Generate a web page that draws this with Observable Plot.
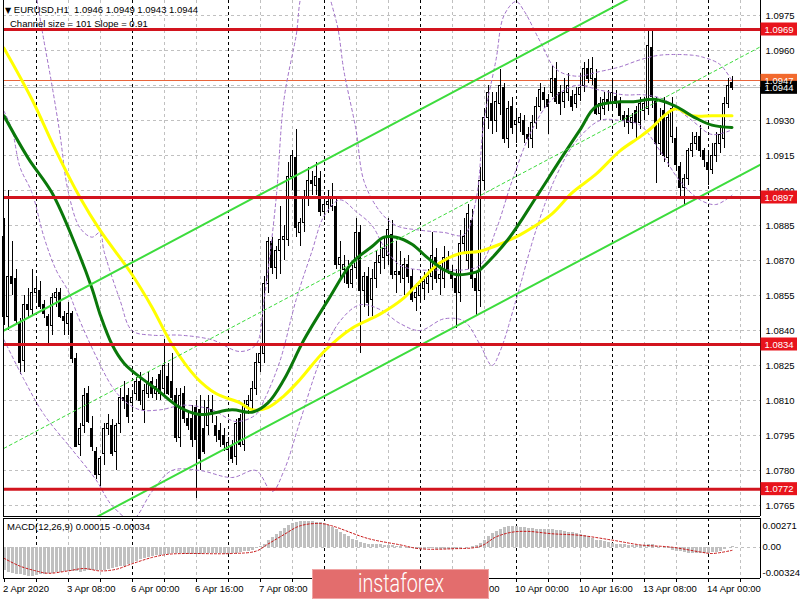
<!DOCTYPE html>
<html><head><meta charset="utf-8">
<script src="https://cdn.jsdelivr.net/npm/d3@7"></script>
<script src="https://cdn.jsdelivr.net/npm/@observablehq/plot@0.6"></script>
<style>
body{margin:0;background:#fff;}
#wrap{position:relative;width:800px;height:600px;overflow:hidden;background:#fff;font-family:'Liberation Sans',Arial,sans-serif;}
#main,#macd{position:absolute;left:0;}
#main{top:0;} #macd{top:517px;}
.hdr{position:absolute;font-size:9.5px;line-height:12px;color:#000;white-space:pre;}
#logo{position:absolute;left:312px;top:569px;width:177px;height:30px;background:#e36d6d;border:1px solid #f0a4a4;box-sizing:border-box;overflow:hidden;}
#logo span{position:absolute;left:50%;top:-1px;white-space:nowrap;color:#fff;font-family:Roboto,'Open Sans',sans-serif;font-size:25px;line-height:29px;font-weight:300;}
</style></head><body>
<div id="wrap">
<div id="main"></div>
<div id="macd"></div>
<div class="hdr" style="left:5px;top:4px"><span style="font-family:'DejaVu Sans';font-size:8px">▼</span> EURUSD,H1  1.0946 1.0949 1.0943 1.0944</div>
<div class="hdr" style="left:10px;top:18px">Channel size = 101 Slope = 0.91</div>
<div class="hdr" style="left:7px;top:521px">MACD(12,26,9) 0.00015 -0.00034</div>
<div id="logo"><span>instaforex</span></div>
</div>
<script>
// ---------- data ----------
const opens = [1.0880,1.0846,1.0863,1.0862,1.0843,1.0827,1.0851,1.0849,1.0856,1.0857,
1.0851,1.0846,1.0842,1.0854,1.0856,1.0846,1.0843,1.0847,1.0828,1.0791,
1.0799,1.0813,1.0798,1.0788,1.0778,1.0787,1.0798,1.0799,1.0788,1.0800,
1.0811,1.0812,1.0809,1.0813,1.0818,1.0806,1.0813,1.0818,1.0813,1.0821,
1.0815,1.0820,1.0818,1.0812,1.0794,1.0813,1.0802,1.0802,1.0807,1.0806,
1.0798,1.0799,1.0806,1.0799,1.0797,1.0795,1.0789,1.0790,1.0786,1.0802,
1.0791,1.0808,1.0810,1.0815,1.0826,1.0830,1.0860,1.0878,1.0867,1.0874,
1.0879,1.0879,1.0906,1.0914,1.0882,1.0886,1.0897,1.0904,1.0902,1.0905,
1.0891,1.0894,1.0893,1.0893,1.0868,1.0866,1.0866,1.0860,1.0867,1.0882,
1.0857,1.0863,1.0853,1.0862,1.0869,1.0871,1.0872,1.0881,1.0864,1.0865,
1.0862,1.0868,1.0863,1.0854,1.0855,1.0858,1.0860,1.0863,1.0871,1.0862,
1.0862,1.0871,1.0865,1.0862,1.0856,1.0877,1.0870,1.0887,1.0862,1.0857,
1.0904,1.0931,1.0937,1.0930,1.0937,1.0944,1.0922,1.0936,1.0928,1.0929,
1.0930,1.0924,1.0922,1.0929,1.0936,1.0942,1.0939,1.0942,1.0948,1.0942,
1.0938,1.0942,1.0940,1.0937,1.0941,1.0945,1.0952,1.0948,1.0948,1.0933,
1.0935,1.0939,1.0937,1.0940,1.0937,1.0932,1.0932,1.0929,1.0934,1.0929,
1.0934,1.0935,1.0961,1.0938,1.0920,1.0934,1.0914,1.0923,1.0922,1.0910,
1.0901,1.0905,1.0917,1.0920,1.0923,1.0917,1.0912,1.0909,1.0915,1.0920,
1.0922,1.0937,1.0946];
const highs = [1.0888,1.0900,1.0878,1.0866,1.0845,1.0855,1.0858,1.0866,1.0862,1.0861,
1.0853,1.0847,1.0856,1.0858,1.0858,1.0848,1.0852,1.0848,1.0830,1.0800,
1.0815,1.0816,1.0803,1.0790,1.0786,1.0800,1.0804,1.0802,1.0800,1.0815,
1.0818,1.0815,1.0814,1.0820,1.0822,1.0817,1.0822,1.0820,1.0819,1.0823,
1.0836,1.0826,1.0830,1.0815,1.0815,1.0816,1.0805,1.0808,1.0810,1.0812,
1.0810,1.0812,1.0812,1.0803,1.0800,1.0798,1.0794,1.0793,1.0802,1.0804,
1.0810,1.0812,1.0818,1.0830,1.0834,1.0863,1.0880,1.0880,1.0876,1.0893,
1.0885,1.0912,1.0917,1.0926,1.0888,1.0900,1.0910,1.0908,1.0912,1.0908,
1.0896,1.0900,1.0903,1.0897,1.0878,1.0872,1.0870,1.0868,1.0888,1.0885,
1.0865,1.0867,1.0866,1.0874,1.0878,1.0880,1.0888,1.0887,1.0878,1.0874,
1.0871,1.0872,1.0866,1.0860,1.0863,1.0865,1.0866,1.0882,1.0875,1.0868,
1.0876,1.0874,1.0868,1.0866,1.0883,1.0888,1.0894,1.0892,1.0865,1.0910,
1.0935,1.0945,1.0942,1.0942,1.0952,1.0946,1.0938,1.0940,1.0934,1.0933,
1.0932,1.0927,1.0932,1.0940,1.0946,1.0944,1.0941,1.0953,1.0955,1.0945,
1.0948,1.0950,1.0943,1.0944,1.0950,1.0955,1.0956,1.0957,1.0952,1.0940,
1.0942,1.0943,1.0947,1.0943,1.0940,1.0934,1.0935,1.0933,1.0936,1.0940,
1.0940,1.0968,1.0969,1.0940,1.0935,1.0940,1.0933,1.0940,1.0927,1.0912,
1.0907,1.0918,1.0925,1.0925,1.0928,1.0918,1.0916,1.0920,1.0925,1.0928,
1.0940,1.0948,1.0949];
const lows = [1.0842,1.0840,1.0855,1.0842,1.0821,1.0822,1.0845,1.0846,1.0852,1.0849,
1.0845,1.0834,1.0838,1.0850,1.0845,1.0838,1.0838,1.0826,1.0790,1.0786,
1.0796,1.0800,1.0788,1.0776,1.0773,1.0782,1.0795,1.0786,1.0780,1.0796,
1.0806,1.0800,1.0805,1.0810,1.0808,1.0800,1.0811,1.0811,1.0810,1.0810,
1.0812,1.0812,1.0810,1.0792,1.0790,1.0800,1.0797,1.0790,1.0768,1.0780,
1.0787,1.0795,1.0800,1.0792,1.0790,1.0788,1.0784,1.0783,1.0782,1.0790,
1.0788,1.0804,1.0806,1.0812,1.0822,1.0826,1.0856,1.0864,1.0862,1.0864,
1.0870,1.0876,1.0900,1.0880,1.0876,1.0882,1.0893,1.0898,1.0898,1.0889,
1.0887,1.0890,1.0891,1.0866,1.0862,1.0860,1.0858,1.0858,1.0862,1.0830,
1.0850,1.0846,1.0846,1.0858,1.0864,1.0866,1.0868,1.0862,1.0856,1.0860,
1.0855,1.0860,1.0852,1.0848,1.0852,1.0853,1.0856,1.0857,1.0860,1.0855,
1.0858,1.0864,1.0858,1.0841,1.0852,1.0873,1.0866,1.0858,1.0846,1.0850,
1.0900,1.0926,1.0924,1.0925,1.0932,1.0920,1.0918,1.0924,1.0920,1.0925,
1.0920,1.0918,1.0918,1.0926,1.0934,1.0935,1.0924,1.0940,1.0937,1.0932,
1.0935,1.0938,1.0934,1.0935,1.0938,1.0942,1.0946,1.0945,1.0932,1.0930,
1.0932,1.0934,1.0935,1.0935,1.0930,1.0927,1.0924,1.0926,1.0922,1.0926,
1.0930,1.0932,1.0935,1.0903,1.0915,1.0912,1.0910,1.0920,1.0908,1.0897,
1.0894,1.0902,1.0914,1.0917,1.0914,1.0910,1.0902,1.0907,1.0912,1.0916,
1.0918,1.0935,1.0943];
const closes = [1.0846,1.0863,1.0860,1.0844,1.0826,1.0851,1.0849,1.0856,1.0858,1.0850,
1.0847,1.0842,1.0854,1.0856,1.0846,1.0844,1.0847,1.0828,1.0790,1.0798,
1.0812,1.0801,1.0790,1.0778,1.0785,1.0798,1.0800,1.0787,1.0799,1.0811,
1.0810,1.0803,1.0811,1.0818,1.0810,1.0814,1.0818,1.0813,1.0816,1.0813,
1.0825,1.0813,1.0811,1.0794,1.0812,1.0802,1.0799,1.0793,1.0793,1.0785,
1.0788,1.0807,1.0805,1.0795,1.0793,1.0791,1.0792,1.0785,1.0800,1.0791,
1.0808,1.0810,1.0815,1.0826,1.0830,1.0860,1.0878,1.0867,1.0874,1.0879,
1.0880,1.0906,1.0915,1.0884,1.0886,1.0897,1.0904,1.0903,1.0906,1.0891,
1.0894,1.0895,1.0897,1.0868,1.0871,1.0868,1.0860,1.0866,1.0882,1.0857,
1.0863,1.0852,1.0862,1.0869,1.0872,1.0875,1.0883,1.0864,1.0865,1.0864,
1.0868,1.0863,1.0853,1.0856,1.0859,1.0861,1.0863,1.0872,1.0862,1.0864,
1.0871,1.0866,1.0862,1.0856,1.0877,1.0880,1.0890,1.0862,1.0857,1.0904,
1.0931,1.0942,1.0930,1.0938,1.0945,1.0922,1.0935,1.0927,1.0930,1.0931,
1.0924,1.0922,1.0929,1.0936,1.0943,1.0939,1.0936,1.0948,1.0938,1.0937,
1.0942,1.0945,1.0936,1.0941,1.0944,1.0952,1.0948,1.0952,1.0933,1.0937,
1.0939,1.0937,1.0942,1.0937,1.0932,1.0930,1.0929,1.0931,1.0929,1.0937,
1.0937,1.0962,1.0940,1.0920,1.0930,1.0915,1.0931,1.0935,1.0911,1.0901,
1.0905,1.0917,1.0920,1.0923,1.0917,1.0913,1.0909,1.0915,1.0920,1.0924,
1.0937,1.0945,1.0944];

// moving averages [bar, price]
const maYellow = [[0,1.0961],[7,1.0939],[13,1.0917],[19,1.0897],[24,1.0883],[32,1.0864],[37,1.0850],[42,1.0834],[48,1.0820],[53,1.0813],[59,1.0809],[62,1.0806],[66,1.0807],[70,1.0812],[74,1.0819],[80,1.0831],[87,1.0841],[94,1.0847],[100,1.0854],[104,1.0861],[109,1.0869],[114,1.0873],[119,1.0874],[124,1.0877],[129,1.0881],[132,1.0884],[137,1.0890],[142,1.0899],[148,1.0907],[154,1.0917],[159,1.0923],[162,1.0927],[165,1.0932],[168,1.0935],[172,1.0932],[177,1.0932],[182,1.0932]];
const maGreen = [[0,1.0932],[6,1.0914],[12,1.0899],[18,1.0876],[22,1.0858],[24,1.0847],[27,1.0834],[30,1.0826],[34,1.0820],[38,1.0815],[44,1.0807],[49,1.0804],[57,1.0806],[62,1.0805],[66,1.0809],[70,1.0819],[75,1.0836],[81,1.0853],[87,1.0869],[92,1.0876],[95,1.0880],[98,1.0880],[102,1.0877],[106,1.0871],[110,1.0866],[113,1.0864],[118,1.0865],[119,1.0866],[126,1.0879],[133,1.0897],[139,1.0913],[144,1.0926],[148,1.0936],[154,1.0938],[157,1.0938],[163,1.0939],[168,1.0936],[173,1.0931],[177,1.0928],[182,1.0927]];
// Bollinger bands [bar, price]
const bandUpper = [[8,1.0984],[10,1.0964],[12,1.0945],[14,1.0924],[16,1.0900],[19,1.0884],[22,1.0880],[24,1.0882],[25,1.0874],[29,1.0853],[32,1.0840],[37,1.0838],[44,1.0838],[52,1.0836],[59,1.0831],[63,1.0834],[65,1.0853],[68,1.0896],[70,1.0939],[73,1.0966],[75,1.0986],[79,1.0990],[83,1.0973],[85,1.0951],[88,1.0926],[90,1.0904],[94,1.0891],[98,1.0885],[104,1.0883],[110,1.0882],[115,1.0881],[118,1.0896],[120,1.0930],[123,1.0956],[125,1.0975],[128,1.0981],[130,1.0977],[134,1.0964],[138,1.0952],[143,1.0949],[149,1.0951],[154,1.0953],[159,1.0956],[164,1.0958],[172,1.0958],[175,1.0957],[179,1.0954],[182,1.0947]];
const bandMiddle = [[0,1.0934],[2,1.0926],[4,1.0910],[7,1.0899],[10,1.0880],[13,1.0866],[16,1.0857],[19,1.0844],[23,1.0829],[27,1.0816],[30,1.0810],[34,1.0806],[39,1.0806],[45,1.0808],[52,1.0806],[58,1.0801],[63,1.0804],[65,1.0810],[69,1.0827],[73,1.0853],[77,1.0874],[80,1.0889],[84,1.0896],[88,1.0891],[92,1.0885],[95,1.0876],[99,1.0868],[104,1.0866],[110,1.0866],[115,1.0866],[119,1.0868],[123,1.0883],[127,1.0904],[132,1.0926],[137,1.0939],[143,1.0945],[149,1.0943],[155,1.0941],[160,1.0941],[165,1.0939],[172,1.0930],[177,1.0924],[182,1.0926]];
const bandLower = [[0,1.0836],[5,1.0819],[10,1.0804],[17,1.0789],[23,1.0776],[27,1.0765],[32,1.0759],[37,1.0771],[42,1.0780],[49,1.0780],[57,1.0777],[63,1.0780],[67,1.0771],[70,1.0780],[74,1.0801],[79,1.0827],[84,1.0844],[89,1.0851],[94,1.0849],[99,1.0843],[104,1.0840],[110,1.0845],[115,1.0844],[119,1.0834],[122,1.0825],[124,1.0831],[128,1.0853],[133,1.0883],[138,1.0906],[143,1.0921],[149,1.0930],[154,1.0930],[159,1.0928],[164,1.0917],[169,1.0904],[174,1.0896],[178,1.0894],[182,1.0898]];
// regression channel: [bar, price] at both ends
const chanUpper = [[0,1.0840],[189,1.1012]];
const chanMiddle = [[0,1.07895],[189,1.09615]];
const chanLower = [[0,1.0739],[189,1.0911]];
// horizontal levels
const levels = [1.0969, 1.0897, 1.0834, 1.0772];
const askPrice = 1.0947, bidPrice = 1.0944;
const priceTicks = [1.0765,1.0780,1.0795,1.0810,1.0825,1.0840,1.0855,1.0870,1.0885,1.0900,1.0915,1.0930,1.0945,1.0960,1.0975];
// time axis
const timeLabels = ["2 Apr 2020","3 Apr 08:00","6 Apr 00:00","6 Apr 16:00","7 Apr 08:00","8 Apr 00:00","8 Apr 16:00","9 Apr 08:00","10 Apr 00:00","10 Apr 16:00","13 Apr 08:00","14 Apr 00:00"];
const timeLabelBars = [0,16,32,48,64,80,96,112,128,144,160,176];
const daySepBars = [8,32,56,80,104,128,152,176];
const gridBars = [0,8,16,24,32,40,48,56,64,72,80,88,96,104,112,120,128,136,144,152,160,168,176,184];
// MACD
const macdHist = [-0.0030,-0.0032,-0.0033,-0.0034,
-0.0035,-0.0036,-0.0037,-0.0037,-0.0036,
-0.0035,-0.0034,-0.0033,-0.0033,-0.0032,-0.0032,-0.0031,-0.0031,
-0.0031,-0.0031,-0.0032,-0.0031,-0.0030,-0.0030,-0.0030,-0.0030,
-0.0029,-0.0028,-0.0027,-0.0026,-0.0025,-0.0024,-0.0022,-0.0020,
-0.0018,-0.0016,-0.0014,-0.0013,-0.0012,-0.0011,-0.0010,-0.0009,-0.0009,
-0.0008,-0.0008,-0.0008,-0.0009,-0.0009,-0.0009,-0.0009,-0.0009,-0.0008,-0.0008,-0.0008,-0.0008,-0.0008,-0.0009,-0.0009,-0.0008,-0.0008,-0.0007,-0.0006,-0.0005,-0.0004,-0.0002,
0.0001,0.0004,0.0008,0.0012,0.0016,0.0020,0.0024,0.0027,0.0030,
0.0031,0.0032,0.0032,0.0032,0.0032,0.0031,0.0031,0.0030,
0.0028,0.0025,0.0022,0.0019,0.0016,0.0013,0.0010,0.0008,0.0006,0.0005,
0.0004,0.0003,0.0003,0.0003,0.0002,0.0002,0.0002,0.0001,0.0001,
-0.0001,-0.0002,-0.0002,-0.0003,-0.0003,-0.0003,-0.0002,-0.0002,-0.0003,-0.0003,-0.0003,-0.0003,-0.0003,-0.0003,-0.0002,-0.0001,0.0000,0.0001,0.0002,
0.0005,0.0009,0.0013,0.0017,0.0020,0.0023,0.0025,0.0026,
0.0026,0.0026,0.0025,0.0025,0.0024,0.0024,0.0023,0.0023,0.0022,
0.0022,0.0022,0.0021,0.0021,0.0020,0.0019,0.0018,0.0017,0.0016,0.0015,
0.0013,0.0011,0.0009,0.0008,0.0007,0.0006,0.0005,
0.0004,0.0003,0.0003,0.0002,0.0002,0.0002,0.0002,0.0002,0.0003,0.0003,
0.0001,0.0000,-0.0001,-0.0002,-0.0004,-0.0005,-0.0006,-0.0007,
-0.0008,-0.0008,-0.0008,-0.0008,-0.0008,-0.0008,-0.0007,-0.0007,
-0.0005,-0.0003,-0.0001,0.00015];
const macdSignal = [[0,-0.0014],[4,-0.0024],[8,-0.0030],[11,-0.0033],[16,-0.0030],[20,-0.0027],[24,-0.0030],[28,-0.0028],[32,-0.0021],[37,-0.0013],[41,-0.0009],[45,-0.0008],[57,-0.0008],[63,-0.0005],[66,0.0004],[70,0.0016],[74,0.0027],[79,0.0030],[82,0.0027],[91,0.0011],[99,0.0003],[104,-0.0002],[112,-0.0002],[119,0.0001],[123,0.0013],[127,0.0019],[131,0.0020],[137,0.0017],[144,0.0015],[152,0.0009],[159,0.0003],[167,0.0000],[174,-0.0006],[177,-0.0008],[182,-0.0004]];
const macdTicks = [0.00271, 0, -0.00324];
const macdTickText = ["0.00271", "0.00", "-0.00324"];

// ---------- layout ----------
const FONT = "'Liberation Sans', Arial, sans-serif";
const FS = 9.5;
const PX = 35 / 0.0015;                       // pixels per price unit
const xDom = [-0.125, 189.125];               // plot area 3px..760px, 4px per bar
const barAt = px => (px - 3.5) / 4;          // pixel -> bar units (for margin boxes)
const yDom = [1.0975 - (516 - 15) / PX, 1.0975 + 15 / PX];
const GRID = "#c0c0c0";
const crisp = {shapeRendering: "crispEdges"};

const bars = closes.map((c, i) => ({i, o: opens[i], h: highs[i], l: lows[i], c}));
const pts = a => a.map(([i, p]) => ({i, p}));
const fmt4 = d3.format(".4f");
const boxH = 6.5 / PX;
const boxes = [
  ...levels.map(v => ({v, fill: "#e8141c"})),
  {v: askPrice, fill: "#f26a2e"},
  {v: bidPrice, fill: "#000000"}
];
const bandStyle = {x: "i", y: "p", stroke: "#a070c8", strokeWidth: 1, strokeDasharray: "3,3", curve: "catmull-rom", clip: true};

const main = Plot.plot({
  width: 800, height: 517,
  marginLeft: 3, marginRight: 40, marginTop: 0, marginBottom: 1,
  x: {domain: xDom, axis: null},
  y: {domain: yDom, axis: null},
  color: {type: "identity"},
  style: {fontFamily: FONT, fontSize: FS + "px", background: "#fff", overflow: "visible"},
  marks: [
    Plot.ruleY(priceTicks, {stroke: GRID, strokeDasharray: "3,3", ...crisp}),
    Plot.ruleX(gridBars.filter(b => b > 0 && !daySepBars.includes(b)), {stroke: GRID, strokeDasharray: "3,3", ...crisp}),
    Plot.ruleX(daySepBars, {stroke: "#000", strokeDasharray: "3,3", ...crisp}),
    Plot.ruleY([bidPrice], {stroke: "#c0c0c0", ...crisp}),
    Plot.ruleY([askPrice], {stroke: "#e8643a", ...crisp}),
    Plot.ruleX(bars, {x: "i", y1: "l", y2: "h", stroke: "#000", ...crisp}),
    Plot.rect(bars, {x1: d => d.i - 0.25, x2: d => d.i + 0.25, y1: d => Math.min(d.o, d.c), y2: d => Math.max(d.o, d.c),
      fill: d => d.c >= d.o ? "#ffffff" : "#000000", stroke: "#000", ...crisp}),
    Plot.line(pts(bandUpper), bandStyle),
    Plot.line(pts(bandMiddle), bandStyle),
    Plot.line(pts(bandLower), bandStyle),
    Plot.line(pts(maYellow), {x: "i", y: "p", stroke: "#ffff00", strokeWidth: 3, curve: "catmull-rom", clip: true}),
    Plot.line(pts(maGreen), {x: "i", y: "p", stroke: "#0a780a", strokeWidth: 3, curve: "catmull-rom", clip: true}),
    Plot.line(pts(chanUpper), {x: "i", y: "p", stroke: "#3ddc3d", strokeWidth: 2, clip: true}),
    Plot.line(pts(chanLower), {x: "i", y: "p", stroke: "#3ddc3d", strokeWidth: 2, clip: true}),
    Plot.line(pts(chanMiddle), {x: "i", y: "p", stroke: "#3ddc3d", strokeWidth: 1, strokeDasharray: "3,3", clip: true}),
    Plot.ruleY(levels, {stroke: "#d2141e", strokeWidth: 3}),
    Plot.ruleX([xDom[0], xDom[1]], {stroke: "#000", ...crisp}),
    Plot.ruleY([yDom[0]], {stroke: "#000", ...crisp}),
    Plot.axisY(priceTicks, {anchor: "right", tickSize: 0, tickPadding: 5, tickFormat: fmt4, fontSize: FS, fill: "#000"}),
    Plot.rect(boxes, {x1: barAt(760.5), x2: barAt(797), y1: d => d.v - boxH, y2: d => d.v + boxH, fill: "fill"}),
    Plot.text(boxes, {x: barAt(764), y: "v", text: d => fmt4(d.v), fill: "#fff", textAnchor: "start", fontSize: FS})
  ]
});
document.getElementById("main").append(main);

// MACD panel: frame from local y=1 to y=61, zero at 29.7
const MPX = 7900;
const mDom = [-(61 - 29.7) / MPX, (29.7 - 1) / MPX];
const hist = macdHist.map((v, i) => ({i, v}));
const macd = Plot.plot({
  width: 800, height: 83,
  marginLeft: 3, marginRight: 40, marginTop: 1, marginBottom: 22,
  x: {domain: xDom, axis: null},
  y: {domain: mDom, axis: null},
  color: {type: "identity"},
  style: {fontFamily: FONT, fontSize: FS + "px", background: "transparent", overflow: "visible"},
  marks: [
    Plot.ruleX(gridBars.filter(b => b > 0 && !daySepBars.includes(b)), {stroke: GRID, strokeDasharray: "3,3", ...crisp}),
    Plot.ruleX(daySepBars, {stroke: "#000", strokeDasharray: "3,3", ...crisp}),
    Plot.ruleY([0], {stroke: GRID, strokeDasharray: "3,3", ...crisp}),
    Plot.ruleX(hist, {x: "i", y1: 0, y2: "v", stroke: "#c0c0c0", strokeWidth: 3, ...crisp}),
    Plot.line(pts(macdSignal), {x: "i", y: "p", stroke: "#c81414", strokeWidth: 1, strokeDasharray: "2,2", curve: "catmull-rom"}),
    Plot.ruleX([xDom[0], xDom[1]], {stroke: "#000", ...crisp}),
    Plot.ruleY([mDom[0], mDom[1]], {stroke: "#000", ...crisp}),
    Plot.axisY(macdTicks, {anchor: "right", tickSize: 0, tickPadding: 2, tickFormat: (d, k) => macdTickText[k], fontSize: FS, fill: "#000"}),
    Plot.axisX(gridBars, {anchor: "bottom", tickSize: 4, tickFormat: () => "", ...crisp}),
    Plot.text(timeLabelBars.map((b, k) => ({b, t: timeLabels[k]})), {x: "b", text: "t", frameAnchor: "bottom", dy: 13, dx: -1, textAnchor: "start", fontSize: FS, fill: "#000"})
  ]
});
document.getElementById("macd").append(macd);

// fit the watermark text to its width in the reference
const lg = document.querySelector("#logo span");
const lw = lg.getBoundingClientRect().width || 1;
lg.style.transform = `translateX(-50%) scaleX(${(86 / lw).toFixed(3)})`;
</script>
</body></html>
